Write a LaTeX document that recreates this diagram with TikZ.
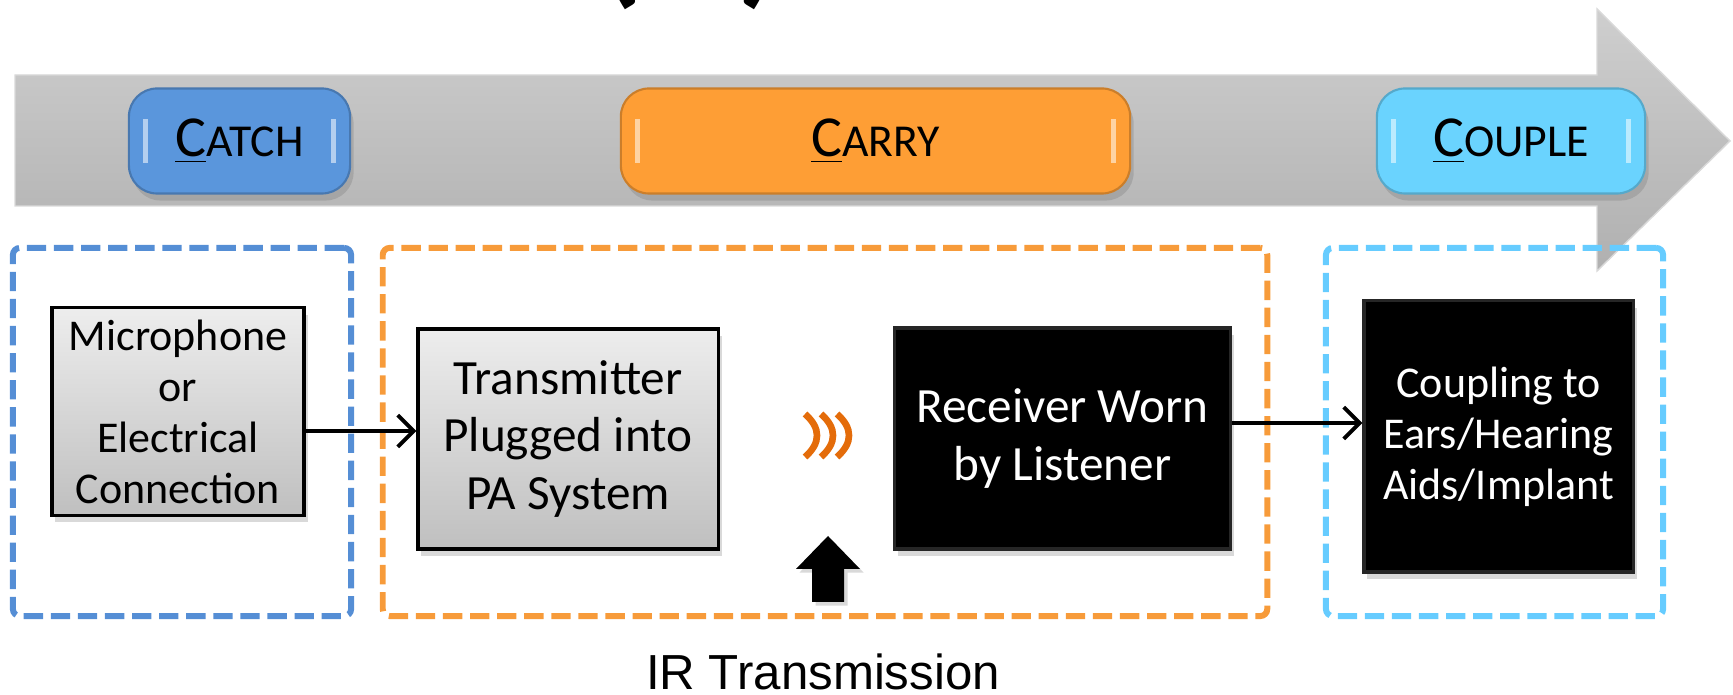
\documentclass[tikz,border=0pt]{standalone}
\usepackage{fontspec}
\setmainfont{Carlito}
\newfontfamily\arialfont{Liberation Sans}
\usetikzlibrary{positioning, arrows.meta, shadows}

\definecolor{catchblue}{HTML}{5A96DC}
\definecolor{carryorange}{HTML}{FE9E35}
\definecolor{coupleblue}{HTML}{6AD3FE}
\definecolor{dashblue}{HTML}{558ED5}
\definecolor{dashorange}{HTML}{F79B3A}
\definecolor{dashcyan}{HTML}{66CCFF}
\definecolor{waveorange}{HTML}{E46C0A}

\newcommand{\stagename}[2]{\underline{#1}{\fontsize{13}{15}\selectfont #2}} % first letter big and underlined

\tikzset{
	>={Straight Barb[length=4.5pt,width=9pt]}, % open chevron heads
	stage/.style={rounded corners=8pt, fill=#1, draw=#1!80!black, line width=0.6pt,
		drop shadow={shadow xshift=1pt, shadow yshift=-2pt, opacity=0.35},
		font=\fontsize{16.5}{18}\selectfont, minimum height=1.05cm}, % coloured stage labels on the bar
	shine/.style={draw=white, opacity=0.55, line width=1.6pt}, % bevel highlight
	zone/.style={draw=#1, line width=1.7pt, dash pattern=on 5.5pt off 2.2pt, rounded corners=2pt,
		minimum height=3.68cm, inner sep=0pt}, % dashed frame round each stage
	greyblock/.style={draw=black, line width=0.9pt, top color=gray!14, bottom color=gray!50,
		drop shadow={shadow xshift=1pt, shadow yshift=-2pt, opacity=0.3}, align=center}, % light boxes
	blackblock/.style={draw=gray!30!black, line width=0.9pt, fill=black, text=white,
		drop shadow={shadow xshift=1pt, shadow yshift=-2pt, opacity=0.3}, align=center}, % dark boxes
	small text/.style={font=\fontsize{12.5}{14.5}\selectfont},
	large text/.style={font=\fontsize{14}{16.4}\selectfont},
	link/.style={->, line width=1.1pt},
	wave/.style={waveorange, line width=1.9pt},
}

\begin{document}
\begin{tikzpicture}[x=0.01cm, y=-0.01cm]
	\useasboundingbox (0,0) rectangle (1733,695);
	% cut-off title
	\node[anchor=south, inner sep=0pt] (title) at (690,11) {\fontsize{40}{40}\selectfont\bfseries (\hspace{0.95cm})};
	% the big grey bar
	\shade[top color=gray!38, bottom color=gray!62, draw=gray!30]
		(15,75) -- (1597,75) -- (1597,9) -- (1730,141) -- (1597,271) -- (1597,206) -- (15,206) -- cycle;
	\node[stage=catchblue, minimum width=2.21cm] (catch) at (239.5,141) {\stagename{C}{ATCH}};
	\node[stage=carryorange, minimum width=5.09cm] (carry) at (875.5,141) {\stagename{C}{ARRY}};
	\node[stage=coupleblue, minimum width=2.68cm] (couple) at (1511,141) {\stagename{C}{OUPLE}};
	\foreach \s in {catch,carry,couple} {
		\draw[shine] ([xshift=5pt,yshift=-9pt]\s.north west) -- ([xshift=5pt,yshift=9pt]\s.south west);
		\draw[shine] ([xshift=-5pt,yshift=-9pt]\s.north east) -- ([xshift=-5pt,yshift=9pt]\s.south east);
	}
	% dashed frames
	\node[zone=dashblue, minimum width=3.38cm] (catchzone) at (182,432) {};
	\node[zone=dashorange, minimum width=8.84cm] (carryzone) at (825,432) {};
	\node[zone=dashcyan, minimum width=3.37cm] (couplezone) at (1494.5,432) {};
	% blocks
	\node[greyblock, small text, minimum width=2.52cm, minimum height=1.99cm] (mic) at (178,411.5)
		{Microphone\\or\\Electrical\\Connection};
	\node[greyblock, large text, minimum width=3.0cm, minimum height=2.2cm] (tx) at (568,439)
		{Transmitter\\Plugged into\\PA System};
	\node[blackblock, large text, minimum width=3.35cm, minimum height=2.21cm] (rx) at (1062.5,438.5)
		{Receiver Worn\\by Listener};
	\node[blackblock, small text, minimum width=2.69cm, minimum height=2.71cm] (cpl) at (1498.5,436.5)
		{Coupling to\\Ears/Hearing\\Aids/Implant};
	\coordinate (levelA) at (0,431);
	\coordinate (levelB) at (0,423);
	\draw[link] (mic.east |- levelA) -- (tx.west |- levelA);
	\draw[link] (rx.east |- levelB) -- (cpl.west |- levelB);
	% infrared waves
	\foreach \i in {0,1,2}
		\draw[wave] (805+16*\i,414) .. controls (821+16*\i,428) and (821+16*\i,443) .. (805+16*\i,457);
	% block arrow pointing up
	\fill[drop shadow={shadow xshift=1pt, shadow yshift=-1pt, opacity=0.3}]
		(828,536) -- (860,569) -- (844,569) -- (844,602) -- (812,602) -- (812,569) -- (796,569) -- cycle;
	\node[font=\arialfont\fontsize{14}{16}\selectfont] (irlabel) at (823,672) {IR Transmission};
\end{tikzpicture}
\end{document}
